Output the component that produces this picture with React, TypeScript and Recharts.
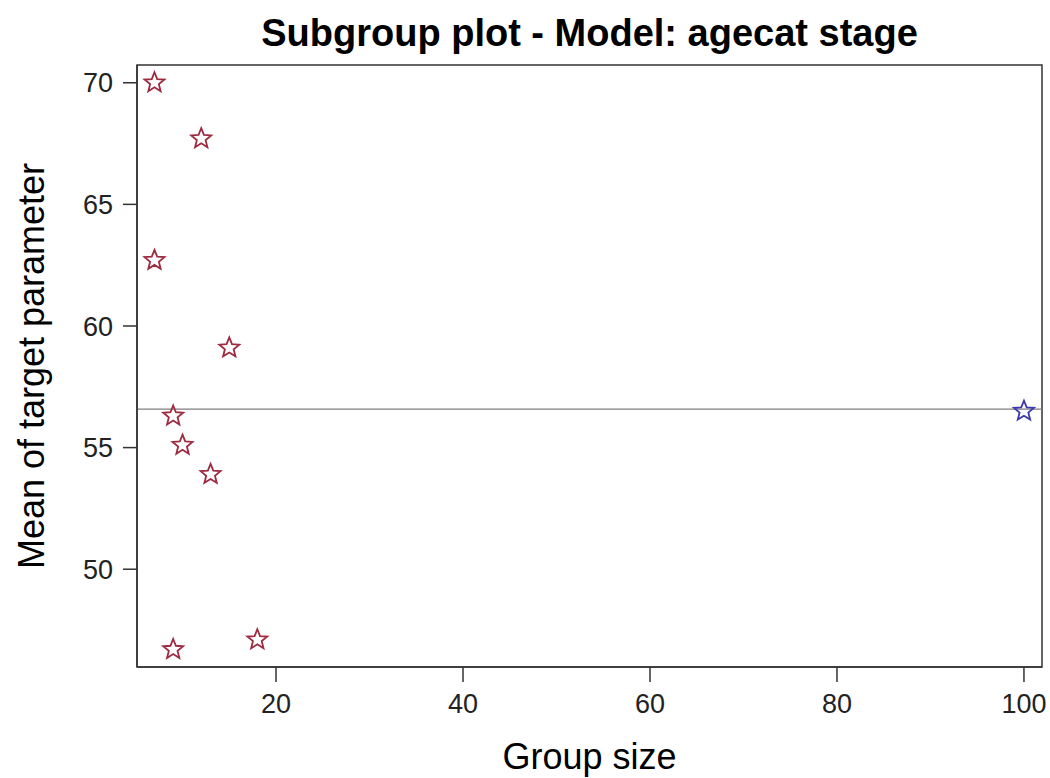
import React from "react";
import {
  ScatterChart,
  Scatter,
  XAxis,
  YAxis,
  ReferenceLine,
  ReferenceArea,
} from "recharts";

// ---- data ----
const subgroupSizes = [7, 12, 7, 15, 9, 10, 13, 9, 18];
const subgroupMeans = [70.0, 67.7, 62.7, 59.1, 56.3, 55.1, 53.9, 46.7, 47.1];
const overallSizes = [100];
const overallMeans = [56.5];
const overallMeanLine = 56.58;
const xTicks = [20, 40, 60, 80, 100];
const yTicks = [50, 55, 60, 65, 70];
const xDomain = [5.13, 101.93];
const yDomain = [45.98, 70.73];

const subgroupData = subgroupSizes.map((s, i) => ({ size: s, mean: subgroupMeans[i] }));
const overallData = overallSizes.map((s, i) => ({ size: s, mean: overallMeans[i] }));

const FONT = "'Liberation Sans', Arial, Helvetica, sans-serif";
const RED = "#9e2a40";
const BLUE = "#3a3aa8";

function starPath(cx: number, cy: number, R: number, r: number) {
  const pts: string[] = [];
  for (let i = 0; i < 10; i++) {
    const rad = i % 2 === 0 ? R : r;
    const a = -Math.PI / 2 + (i * Math.PI) / 5;
    pts.push(`${(cx + rad * Math.cos(a)).toFixed(2)},${(cy + rad * Math.sin(a)).toFixed(2)}`);
  }
  return "M" + pts.join("L") + "Z";
}

const makeStar = (color: string) => (props: any) => {
  const { cx, cy } = props;
  if (cx == null || cy == null) return <g />;
  return (
    <path
      d={starPath(cx, cy, 10.5, 4.6)}
      fill="none"
      stroke={color}
      strokeWidth={1.8}
      strokeLinejoin="miter"
    />
  );
};

const YLabel = (props: any) => {
  const vb = props.viewBox || { x: 0, y: 65, width: 137, height: 602 };
  const cx = 44;
  const cy = vb.y + vb.height / 2;
  return (
    <text
      x={cx}
      y={cy}
      transform={`rotate(-90 ${cx} ${cy})`}
      textAnchor="middle"
      fontFamily={FONT}
      fontSize={36}
      fill="#000"
    >
      Mean of target parameter
    </text>
  );
};

const XLabel = (props: any) => {
  const vb = props.viewBox || { x: 137, y: 667, width: 905, height: 111 };
  const cx = vb.x + vb.width / 2;
  return (
    <text x={cx} y={769} textAnchor="middle" fontFamily={FONT} fontSize={36} fill="#000">
      Group size
    </text>
  );
};

export default function App() {
  return (
    <div style={{ position: "absolute", left: 0, top: 0, width: 1050, height: 778, background: "#fff" }}>
      <ScatterChart
        width={1050}
        height={778}
        margin={{ top: 65, right: 8, bottom: 0, left: 0 }}
      >
        <XAxis
          type="number"
          dataKey="size"
          domain={xDomain}
          ticks={xTicks}
          allowDataOverflow
          height={111}
          tickSize={15}
          tickMargin={12}
          axisLine={{ stroke: "#333", strokeWidth: 1.5 }}
          tickLine={{ stroke: "#333", strokeWidth: 1.5 }}
          tick={{ fontFamily: FONT, fontSize: 27, fill: "#222" }}
          label={<XLabel />}
        />
        <YAxis
          type="number"
          dataKey="mean"
          domain={yDomain}
          ticks={yTicks}
          allowDataOverflow
          width={137}
          tickSize={14}
          tickMargin={10}
          axisLine={{ stroke: "#333", strokeWidth: 1.5 }}
          tickLine={{ stroke: "#333", strokeWidth: 1.5 }}
          tick={{ fontFamily: FONT, fontSize: 27, fill: "#222" }}
          label={<YLabel />}
        />
        <ReferenceArea
          x1={xDomain[0]}
          x2={xDomain[1]}
          y1={yDomain[0]}
          y2={yDomain[1]}
          fill="none"
          fillOpacity={0}
          stroke="#333"
          strokeWidth={1.5}
          ifOverflow="visible"
        />
        <ReferenceLine y={overallMeanLine} stroke="#7f7f7f" strokeWidth={1.2} ifOverflow="visible" />
        <Scatter data={subgroupData} shape={makeStar(RED)} isAnimationActive={false} />
        <Scatter data={overallData} shape={makeStar(BLUE)} isAnimationActive={false} />
      </ScatterChart>
      <svg
        width={1050}
        height={60}
        style={{ position: "absolute", left: 0, top: 0, pointerEvents: "none" }}
      >
        <text x={589.5} y={46} textAnchor="middle" fontFamily={FONT} fontWeight="bold" fontSize={38} fill="#000">
          Subgroup plot - Model: agecat stage
        </text>
      </svg>
    </div>
  );
}
